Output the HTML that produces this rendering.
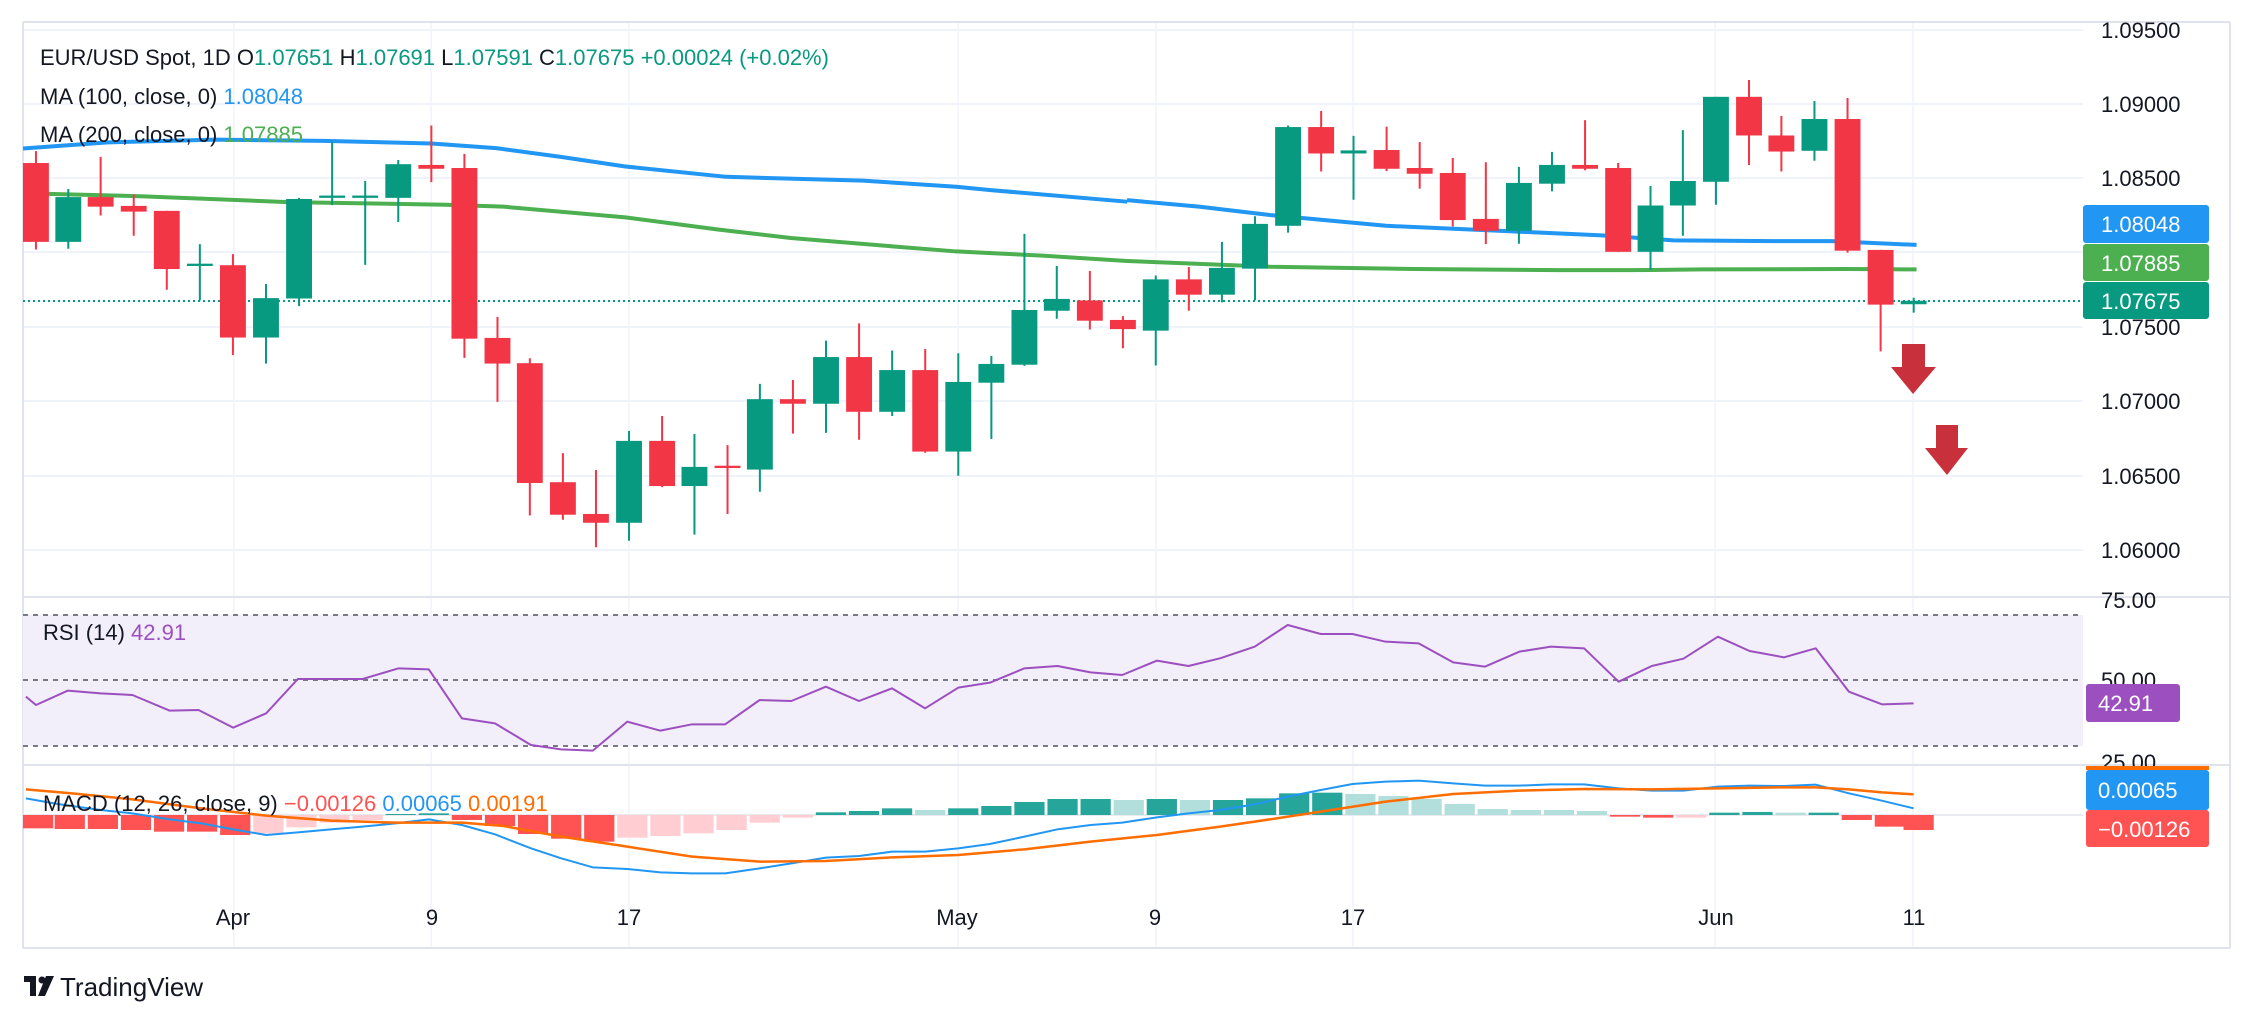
<!DOCTYPE html>
<html><head><meta charset="utf-8"><style>
html,body{margin:0;padding:0;background:#fff;}
svg{display:block;font-family:"Liberation Sans",sans-serif;}
</style></head><body>
<svg width="2255" height="1027" viewBox="0 0 2255 1027" xmlns="http://www.w3.org/2000/svg">
<rect width="2255" height="1027" fill="#fff"/>
<!-- vertical grid -->
<g stroke="#f0f3fa" stroke-width="1.5">
<line x1="234" y1="23" x2="234" y2="948"/><line x1="431" y1="23" x2="431" y2="948"/><line x1="629" y1="23" x2="629" y2="948"/><line x1="958" y1="23" x2="958" y2="948"/><line x1="1156" y1="23" x2="1156" y2="948"/><line x1="1353" y1="23" x2="1353" y2="948"/><line x1="1715" y1="23" x2="1715" y2="948"/><line x1="1913" y1="23" x2="1913" y2="948"/>
</g>
<!-- horizontal grid main -->
<g stroke="#f0f3fa" stroke-width="2">
<line x1="23" y1="30" x2="2083" y2="30"/><line x1="23" y1="104" x2="2083" y2="104"/><line x1="23" y1="178" x2="2083" y2="178"/><line x1="23" y1="252" x2="2083" y2="252"/><line x1="23" y1="327" x2="2083" y2="327"/><line x1="23" y1="401" x2="2083" y2="401"/><line x1="23" y1="476" x2="2083" y2="476"/><line x1="23" y1="550" x2="2083" y2="550"/>
</g>
<!-- pane borders -->
<g stroke="#e0e3eb" stroke-width="2">
<line x1="23" y1="22" x2="2230" y2="22"/>
<line x1="23" y1="597" x2="2230" y2="597"/>
<line x1="23" y1="765" x2="2230" y2="765"/>
<line x1="23" y1="948" x2="2230" y2="948"/>
<line x1="23" y1="22" x2="23" y2="948"/>
<line x1="2230" y1="22" x2="2230" y2="948"/>
</g>
<!-- MAs -->
<g fill="none" stroke-width="4" stroke-linejoin="round">
<g transform="scale(0.7189,0.3827)"><polyline vector-effect="non-scaling-stroke" stroke="#2196f3" points="32,388 150,372 300,365 450,368 600,375 690,387 780,410 870,435 1010,462 1200,472 1330,488 1380,497 1568,527"/>
<polyline vector-effect="non-scaling-stroke" stroke="#4caf50" points="32,505 200,513 400,528 620,535 700,540 870,568 1000,600 1100,622 1250,645 1330,657 1450,668 1568,682"/></g>
<g transform="translate(1127,0) scale(0.7191,0.3827)"><polyline vector-effect="non-scaling-stroke" stroke="#2196f3" points="0,523 100,540 200,562 360,590 540,605 660,615 760,628 900,630 980,630 1098,640"/>
<polyline vector-effect="non-scaling-stroke" stroke="#4caf50" points="0,682 200,697 400,703 600,706 700,706 800,704 1000,703 1098,704"/></g>
</g>
<!-- price line -->
<line x1="23" y1="301" x2="2083" y2="301" stroke="#089981" stroke-width="2" stroke-dasharray="2,3"/>
<!-- candles zoom1 -->
<g transform="scale(0.7189,0.3827)">
<g stroke="#f23645" stroke-width="2.8">
<line x1="50" y1="395" x2="50" y2="652"/><line x1="140" y1="410" x2="140" y2="563"/><line x1="186" y1="508" x2="186" y2="616"/><line x1="232" y1="551" x2="232" y2="757"/><line x1="324" y1="664" x2="324" y2="928"/><line x1="600" y1="328" x2="600" y2="476"/><line x1="646" y1="402" x2="646" y2="935"/><line x1="692" y1="828" x2="692" y2="1050"/><line x1="737" y1="936" x2="737" y2="1347"/><line x1="783" y1="1184" x2="783" y2="1358"/><line x1="829" y1="1228" x2="829" y2="1430"/><line x1="921" y1="1087" x2="921" y2="1273"/><line x1="1012" y1="1163" x2="1012" y2="1343"/><line x1="1103" y1="993" x2="1103" y2="1133"/><line x1="1195" y1="845" x2="1195" y2="1149"/><line x1="1287" y1="912" x2="1287" y2="1183"/><line x1="1516" y1="708" x2="1516" y2="861"/><line x1="1562" y1="826" x2="1562" y2="910"/>
</g>
<g stroke="#089981" stroke-width="2.8">
<line x1="95" y1="494" x2="95" y2="650"/><line x1="278" y1="638" x2="278" y2="785"/><line x1="370" y1="742" x2="370" y2="950"/><line x1="416" y1="517" x2="416" y2="800"/><line x1="462" y1="370" x2="462" y2="536"/><line x1="508" y1="473" x2="508" y2="692"/><line x1="554" y1="418" x2="554" y2="580"/><line x1="875" y1="1126" x2="875" y2="1413"/><line x1="966" y1="1134" x2="966" y2="1397"/><line x1="1057" y1="1003" x2="1057" y2="1285"/><line x1="1149" y1="890" x2="1149" y2="1131"/><line x1="1241" y1="916" x2="1241" y2="1087"/><line x1="1333" y1="923" x2="1333" y2="1243"/><line x1="1379" y1="930" x2="1379" y2="1147"/><line x1="1425" y1="611" x2="1425" y2="956"/><line x1="1470" y1="695" x2="1470" y2="833"/>
</g>
<g fill="#f23645">
<rect x="32" y="426" width="36" height="206"/><rect x="122" y="515" width="36" height="25"/><rect x="168" y="538" width="36" height="15"/><rect x="214" y="551" width="36" height="152"/><rect x="306" y="693" width="36" height="189"/><rect x="582" y="431" width="36" height="10"/><rect x="628" y="439" width="36" height="446"/><rect x="674" y="883" width="36" height="67"/><rect x="719" y="949" width="36" height="313"/><rect x="765" y="1260" width="36" height="85"/><rect x="811" y="1343" width="36" height="23"/><rect x="903" y="1152" width="36" height="118"/><rect x="994" y="1217" width="36" height="6"/><rect x="1085" y="1043" width="36" height="12"/><rect x="1177" y="933" width="36" height="143"/><rect x="1269" y="967" width="36" height="213"/><rect x="1498" y="785" width="36" height="53"/><rect x="1544" y="836" width="36" height="24"/>
</g>
<g fill="#089981">
<rect x="77" y="515" width="36" height="117"/><rect x="260" y="689" width="36" height="6"/><rect x="352" y="779" width="36" height="103"/><rect x="398" y="520" width="36" height="260"/><rect x="444" y="511" width="36" height="6"/><rect x="490" y="511" width="36" height="6"/><rect x="536" y="429" width="36" height="88"/><rect x="857" y="1152" width="36" height="214"/><rect x="948" y="1220" width="36" height="50"/><rect x="1039" y="1043" width="36" height="184"/><rect x="1131" y="933" width="36" height="122"/><rect x="1223" y="967" width="36" height="109"/><rect x="1315" y="998" width="36" height="182"/><rect x="1361" y="951" width="36" height="49"/><rect x="1407" y="810" width="36" height="143"/><rect x="1452" y="781" width="36" height="31"/>
</g>
</g>
<!-- candles zoom2 -->
<g transform="translate(1127,0) scale(0.7191,0.3827)">
<g stroke="#f23645" stroke-width="2.8">
<line x1="86" y1="698" x2="86" y2="812"/><line x1="270" y1="290" x2="270" y2="448"/><line x1="361" y1="331" x2="361" y2="447"/><line x1="407" y1="371" x2="407" y2="493"/><line x1="453" y1="413" x2="453" y2="592"/><line x1="499" y1="424" x2="499" y2="638"/><line x1="637" y1="314" x2="637" y2="445"/><line x1="683" y1="426" x2="683" y2="658"/><line x1="865" y1="209" x2="865" y2="431"/><line x1="910" y1="303" x2="910" y2="448"/><line x1="1002" y1="256" x2="1002" y2="660"/><line x1="1048" y1="653" x2="1048" y2="918"/>
</g>
<g stroke="#089981" stroke-width="2.8">
<line x1="40" y1="720" x2="40" y2="955"/><line x1="132" y1="632" x2="132" y2="790"/><line x1="178" y1="565" x2="178" y2="785"/><line x1="224" y1="328" x2="224" y2="608"/><line x1="315" y1="355" x2="315" y2="522"/><line x1="545" y1="436" x2="545" y2="637"/><line x1="591" y1="397" x2="591" y2="500"/><line x1="728" y1="486" x2="728" y2="705"/><line x1="773" y1="340" x2="773" y2="616"/><line x1="819" y1="253" x2="819" y2="535"/><line x1="956" y1="264" x2="956" y2="420"/><line x1="1094" y1="778" x2="1094" y2="817"/>
</g>
<g fill="#f23645">
<rect x="68" y="730" width="36" height="40"/><rect x="252" y="332" width="36" height="69"/><rect x="343" y="392" width="36" height="49"/><rect x="389" y="439" width="36" height="15"/><rect x="435" y="452" width="36" height="123"/><rect x="481" y="572" width="36" height="31"/><rect x="619" y="431" width="36" height="10"/><rect x="665" y="439" width="36" height="219"/><rect x="847" y="253" width="36" height="101"/><rect x="892" y="354" width="36" height="42"/><rect x="984" y="311" width="36" height="344"/><rect x="1030" y="653" width="36" height="143"/>
</g>
<g fill="#089981">
<rect x="22" y="730" width="36" height="134"/><rect x="114" y="700" width="36" height="70"/><rect x="160" y="585" width="36" height="117"/><rect x="206" y="332" width="36" height="258"/><rect x="297" y="393" width="36" height="8"/><rect x="527" y="478" width="36" height="125"/><rect x="573" y="431" width="36" height="49"/><rect x="710" y="537" width="36" height="121"/><rect x="755" y="473" width="36" height="64"/><rect x="801" y="253" width="36" height="222"/><rect x="938" y="311" width="36" height="83"/><rect x="1076" y="786" width="36" height="9"/>
</g>
</g>
<!-- arrows -->
<g fill="#c8303c">
<rect x="1902" y="344" width="23" height="24"/><polygon points="1891,367 1936,367 1913,394"/>
<rect x="1936" y="425" width="22" height="24"/><polygon points="1925,448 1968,448 1947,475"/>
</g>
<!-- legend -->
<g font-size="22" fill="#131722">
<text x="40" y="65">EUR/USD Spot, 1D <tspan>O</tspan><tspan fill="#089981">1.07651</tspan> H<tspan fill="#089981">1.07691</tspan> L<tspan fill="#089981">1.07591</tspan> C<tspan fill="#089981">1.07675</tspan> <tspan fill="#089981">+0.00024 (+0.02%)</tspan></text>
<text x="40" y="104">MA (100, close, 0) <tspan fill="#2196f3">1.08048</tspan></text>
<text x="40" y="142">MA (200, close, 0) <tspan fill="#4caf50">1.07885</tspan></text>
</g>
<!-- price axis -->
<g font-size="22" fill="#131722">
<text x="2101" y="38">1.09500</text><text x="2101" y="112">1.09000</text><text x="2101" y="186">1.08500</text><text x="2101" y="335">1.07500</text><text x="2101" y="409">1.07000</text><text x="2101" y="484">1.06500</text><text x="2101" y="558">1.06000</text>
<text x="2101" y="608">75.00</text><text x="2101" y="688">50.00</text><text x="2101" y="770">25.00</text>
</g>
<rect x="2083" y="205" width="126" height="38" rx="3" fill="#2196f3"/>
<rect x="2083" y="244" width="126" height="37" rx="3" fill="#4caf50"/>
<rect x="2083" y="282" width="126" height="37" rx="3" fill="#089981"/>
<g font-size="22" fill="#fff"><text x="2101" y="232">1.08048</text><text x="2101" y="271">1.07885</text><text x="2101" y="309">1.07675</text></g>
<!-- RSI pane -->
<rect x="23" y="615" width="2060" height="131" fill="#f2eefa"/>
<g stroke="#787b86" stroke-width="2" stroke-dasharray="5,5"><line x1="23" y1="615" x2="2083" y2="615"/><line x1="23" y1="680" x2="2083" y2="680"/><line x1="23" y1="746" x2="2083" y2="746"/></g>
<g transform="translate(0,580) scale(1.4388,0.33333)" fill="none">
<polyline vector-effect="non-scaling-stroke" stroke="#9c4fbf" stroke-width="2" stroke-linejoin="round" points="18,350 25,375 47,332 70,340 92,345 118,392 138,390 162,443 185,400 207,297 230,297 252,297 277,265 298,268 321,415 344,430 369,495 390,508 412,512 436,425 459,452 481,433 504,433 528,360 550,363 574,320 597,363 620,325 643,385 666,323 688,308 712,265 735,258 758,277 780,285 804,242 826,258 848,235 872,200 895,135 918,162 940,162 963,185 986,190 1010,247 1032,260 1056,215 1078,200 1101,205 1125,305 1148,258 1170,236 1194,170 1216,213 1240,232 1262,205 1285,335 1308,373 1330,370"/>
</g>
<text x="43" y="640" font-size="22" fill="#131722">RSI (14) <tspan fill="#9c4fbf">42.91</tspan></text>
<rect x="2086" y="684" width="94" height="38" rx="3" fill="#9c4fbf"/>
<text x="2098" y="711" font-size="22" fill="#fff">42.91</text>
<!-- MACD -->
<line x1="23" y1="815" x2="2083" y2="815" stroke="#e0e3eb" stroke-width="1.5"/>
<g transform="translate(0,580) scale(1.4388,0.33333)">
<g fill="#ff5252"><rect x="16" y="705" width="21" height="40"/><rect x="38" y="705" width="21" height="42"/><rect x="61" y="705" width="21" height="42"/><rect x="84" y="705" width="21" height="45"/><rect x="107" y="705" width="21" height="50"/><rect x="130" y="705" width="21" height="50"/><rect x="153" y="705" width="21" height="60"/><rect x="314" y="705" width="21" height="15"/><rect x="337" y="705" width="21" height="33"/><rect x="360" y="705" width="21" height="57"/><rect x="383" y="705" width="21" height="71"/><rect x="406" y="705" width="21" height="80"/><rect x="1119" y="705" width="21" height="5"/><rect x="1142" y="705" width="21" height="8"/><rect x="1280" y="705" width="21" height="15"/><rect x="1303" y="705" width="21" height="35"/><rect x="1323" y="705" width="21" height="45"/></g>
<g fill="#ffcdd2"><rect x="176" y="705" width="21" height="55"/><rect x="199" y="705" width="21" height="37"/><rect x="222" y="705" width="21" height="23"/><rect x="245" y="705" width="21" height="15"/><rect x="429" y="705" width="21" height="68"/><rect x="452" y="705" width="21" height="63"/><rect x="475" y="705" width="21" height="55"/><rect x="498" y="705" width="21" height="45"/><rect x="521" y="705" width="21" height="23"/><rect x="544" y="705" width="21" height="8"/><rect x="1165" y="705" width="21" height="8"/></g>
<g fill="#26a69a"><rect x="268" y="702" width="21" height="3"/><rect x="291" y="700" width="21" height="5"/><rect x="567" y="697" width="21" height="8"/><rect x="590" y="693" width="21" height="12"/><rect x="613" y="685" width="21" height="20"/><rect x="659" y="685" width="21" height="20"/><rect x="682" y="678" width="21" height="27"/><rect x="705" y="666" width="21" height="39"/><rect x="728" y="657" width="21" height="48"/><rect x="751" y="657" width="21" height="48"/><rect x="797" y="657" width="21" height="48"/><rect x="843" y="660" width="21" height="45"/><rect x="866" y="655" width="21" height="50"/><rect x="889" y="640" width="21" height="65"/><rect x="912" y="638" width="21" height="67"/><rect x="1188" y="698" width="21" height="7"/><rect x="1211" y="696" width="21" height="9"/><rect x="1257" y="698" width="21" height="7"/></g>
<g fill="#b2dfdb"><rect x="636" y="690" width="21" height="15"/><rect x="774" y="660" width="21" height="45"/><rect x="820" y="660" width="21" height="45"/><rect x="935" y="642" width="21" height="63"/><rect x="958" y="648" width="21" height="57"/><rect x="981" y="657" width="21" height="48"/><rect x="1004" y="672" width="21" height="33"/><rect x="1027" y="687" width="21" height="18"/><rect x="1050" y="690" width="21" height="15"/><rect x="1073" y="690" width="21" height="15"/><rect x="1096" y="693" width="21" height="12"/><rect x="1234" y="698" width="21" height="7"/></g>
<polyline vector-effect="non-scaling-stroke" fill="none" stroke="#2196f3" stroke-width="2" stroke-linejoin="round" points="18,655 40,672 70,690 92,700 118,718 140,730 162,748 185,765 207,757 230,748 252,740 275,730 298,718 321,735 344,763 369,805 390,835 412,862 436,867 459,877 481,880 504,880 528,865 550,850 574,833 597,828 620,815 643,815 666,805 688,792 712,770 735,748 758,735 780,728 804,712 826,700 848,690 872,673 895,650 918,630 940,612 963,605 986,602 1010,610 1032,617 1056,617 1078,613 1101,613 1125,625 1148,632 1170,632 1194,620 1216,617 1240,618 1262,614 1285,640 1308,662 1330,685"/>
<polyline vector-effect="non-scaling-stroke" fill="none" stroke="#ff6d00" stroke-width="2.5" stroke-linejoin="round" points="18,628 50,640 92,658 140,685 185,707 230,722 275,728 321,728 350,738 390,770 436,800 481,830 528,845 574,843 620,832 666,825 712,808 758,785 804,765 848,740 872,725 918,695 963,665 1010,642 1056,632 1101,627 1148,628 1194,625 1240,622 1262,622 1285,628 1308,637 1330,643"/>
</g>
<text x="43" y="811" font-size="22" fill="#131722">MACD (12, 26, close, 9) <tspan fill="#ff5252">−0.00126</tspan> <tspan fill="#2196f3">0.00065</tspan> <tspan fill="#ff6d00">0.00191</tspan></text>
<rect x="2086" y="766" width="123" height="4" fill="#ff6d00"/>
<rect x="2086" y="770" width="123" height="40" rx="3" fill="#2196f3"/>
<rect x="2086" y="810" width="123" height="37" rx="3" fill="#ff5252"/>
<g font-size="22" fill="#fff"><text x="2098" y="798">0.00065</text><text x="2098" y="837">−0.00126</text></g>
<!-- date axis -->
<g font-size="22" fill="#131722" text-anchor="middle">
<text x="233" y="925">Apr</text><text x="432" y="925">9</text><text x="629" y="925">17</text><text x="957" y="925">May</text><text x="1155" y="925">9</text><text x="1353" y="925">17</text><text x="1716" y="925">Jun</text><text x="1914" y="925">11</text>
</g>
<!-- logo -->
<g fill="#131722"><rect x="24" y="976" width="12" height="6"/><rect x="30" y="976" width="6" height="20"/><circle cx="42" cy="980" r="3.5"/><polygon points="46,976 54,976 45,996 38,996"/></g>
<text x="60" y="996" font-size="26" fill="#131722">TradingView</text>
</svg>
</body></html>
